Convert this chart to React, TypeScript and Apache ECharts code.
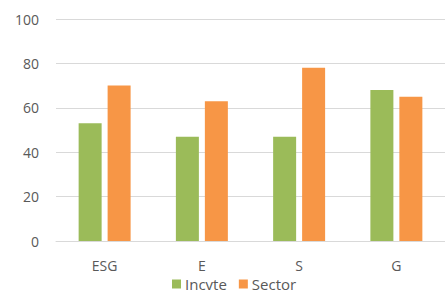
import React, { useEffect, useRef } from "react";
import * as echarts from "echarts";

const categories = ["ESG", "E", "S", "G"];
const incyte = [53, 47, 47, 68];
const sector = [70, 63, 78, 65];
const seriesNames = ["Incvte", "Sector"];

export default function App() {
  const ref = useRef<HTMLDivElement>(null);
  useEffect(() => {
    const chart = echarts.init(ref.current!, null, { renderer: "svg" });
    const font = "'Open Sans', 'Liberation Sans', sans-serif";
    chart.setOption({
      animation: false,
      grid: { left: 56, width: 400, top: 19, bottom: 52, containLabel: false },
      legend: {
        data: seriesNames,
        left: 172,
        top: 276,
        padding: 0,
        itemWidth: 9,
        itemHeight: 9,
        itemGap: 12,
        icon: "rect",
        textStyle: { color: "#595959", fontSize: 15, lineHeight: 16, fontFamily: font, padding: [0, 0, 0, -1] },
      },
      xAxis: {
        type: "category",
        data: categories,
        axisLine: { lineStyle: { color: "#d9d9d9", width: 1 } },
        axisTick: { show: false },
        axisLabel: { color: "#595959", fontSize: 14, fontFamily: font, margin: 17 },
      },
      yAxis: {
        type: "value",
        min: 0,
        max: 100,
        interval: 20,
        axisLine: { show: false },
        axisTick: { show: false },
        splitLine: { lineStyle: { color: "#d9d9d9", width: 1 } },
        axisLabel: { color: "#595959", fontSize: 14, fontFamily: font, margin: 17 },
      },
      series: [
        {
          name: seriesNames[0],
          type: "bar",
          data: incyte,
          barWidth: 23,
          barGap: "26%",
          itemStyle: { color: "#9BBB59" },
        },
        {
          name: seriesNames[1],
          type: "bar",
          data: sector,
          barWidth: 23,
          barGap: "26%",
          itemStyle: { color: "#F79646" },
        },
      ],
    });
    return () => chart.dispose();
  }, []);
  return <div ref={ref} style={{ width: 445, height: 293, position: "absolute", left: 0, top: 0 }} />;
}
